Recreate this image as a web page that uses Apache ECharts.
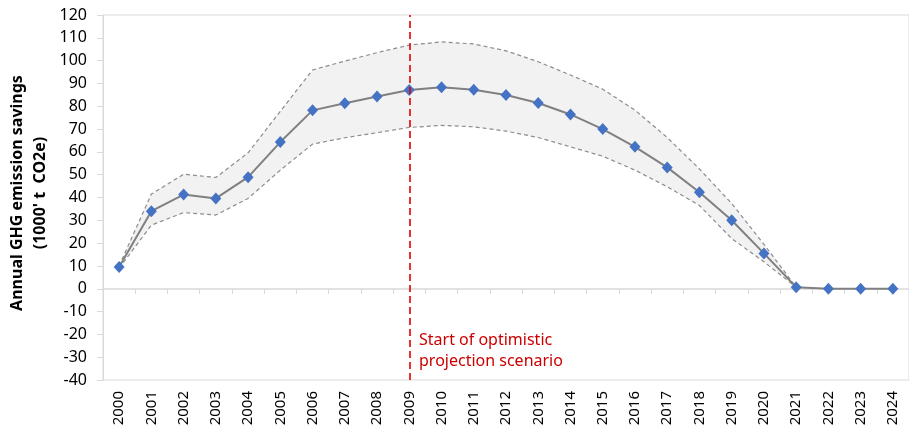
<!DOCTYPE html>
<html>
<head>
<meta charset="utf-8">
<script src="https://cdn.jsdelivr.net/npm/echarts@6/dist/echarts.min.js"></script>
<style>html,body{margin:0;padding:0;background:#fff}#c{width:909px;height:431px}</style>
</head>
<body>
<div id="c"></div>
<script>
var years = ['2000','2001','2002','2003','2004','2005','2006','2007','2008','2009','2010','2011','2012','2013','2014','2015','2016','2017','2018','2019','2020','2021','2022','2023','2024'];
var savings = [9.5, 34.0, 41.3, 39.6, 48.9, 64.3, 78.2, 81.3, 84.3, 87.1, 88.3, 87.2, 84.9, 81.4, 76.4, 70.0, 62.2, 53.2, 42.3, 30.0, 15.5, 0.7, 0, 0, 0];
var upperBound = [10, 41.5, 50.2, 48.8, 59.6, 77.8, 95.9, 99.8, 103.5, 106.8, 108.2, 107.3, 104.3, 99.5, 93.7, 87.5, 78.3, 66.3, 52.5, 37.4, 19.5, 0.7];
var lowerBound = [9, 27.9, 33.4, 32.3, 39.6, 52.0, 63.4, 66.2, 68.4, 70.7, 71.6, 71.0, 69.1, 66.3, 62.2, 58.1, 52.0, 44.7, 36.5, 22.0, 11.8, 0.7];
var yTicks = {min: -40, max: 120, interval: 10};
var scenarioStart = '2009';
var axisTitle = ['Annual GHG emission savings', "(1000' t  CO2e)"];
var note = ['Start of optimistic', 'projection scenario'];

var bandDiff = upperBound.map(function (u, i) { return +(u - lowerBound[i]).toFixed(2); });

var chart = echarts.init(document.getElementById('c'), null, {renderer: 'canvas'});
chart.setOption({
  animation: false,
  backgroundColor: '#fff',
  grid: {left: 103, right: -2.5, top: 15, bottom: 51, show: true, borderColor: '#d9d9d9', borderWidth: 1, backgroundColor: 'transparent'},
  xAxis: [
    {type: 'category', data: years, position: 'bottom', boundaryGap: true,
      axisLine: {show: false, onZero: false}, axisTick: {show: false},
      axisLabel: {rotate: 90, margin: 11, color: '#000', fontFamily: 'Noto Sans', fontSize: 15, interval: 0},
      splitLine: {show: false}},
    {type: 'category', data: years, position: 'bottom', boundaryGap: true,
      axisLine: {show: true, onZero: true, lineStyle: {color: '#d9d9d9', width: 1.5}},
      axisTick: {show: true, length: 5, interval: 0, lineStyle: {color: '#d9d9d9', width: 1}},
      axisLabel: {show: false}, splitLine: {show: false}}
  ],
  yAxis: {type: 'value', min: yTicks.min, max: yTicks.max, interval: yTicks.interval,
    axisLine: {show: true, lineStyle: {color: '#d9d9d9', width: 1}},
    axisTick: {show: true, length: 6, lineStyle: {color: '#d9d9d9'}},
    axisLabel: {color: '#000', fontFamily: 'Noto Sans', fontSize: 16, margin: 16},
    splitLine: {show: false}},
  series: [
    {name: 'base', type: 'line', data: lowerBound, stack: 'band', symbol: 'none', silent: true,
      lineStyle: {opacity: 0}, areaStyle: {opacity: 0}, z: 1},
    {name: 'band', type: 'line', data: bandDiff, stack: 'band', symbol: 'none', silent: true,
      lineStyle: {opacity: 0}, areaStyle: {color: '#f2f2f2', opacity: 1}, z: 1},
    {name: 'upper', type: 'line', data: upperBound, symbol: 'none',
      lineStyle: {color: '#8c8c8c', width: 1.2, type: [4, 3]}, z: 2},
    {name: 'lower', type: 'line', data: lowerBound, symbol: 'none',
      lineStyle: {color: '#8c8c8c', width: 1.2, type: [4, 3]}, z: 2},
    {name: 'savings', type: 'line', data: savings, symbol: 'diamond', symbolSize: [11, 12],
      lineStyle: {color: '#808080', width: 2}, itemStyle: {color: '#4472c4'}, z: 4,
      markLine: {silent: true, symbol: 'none', label: {show: false},
        lineStyle: {color: '#e00000', width: 1.6, type: [7, 4]},
        data: [{xAxis: scenarioStart}]}}
  ],
  graphic: [
    {type: 'text', left: 419, top: 330, z: 10,
      style: {text: note.join('\n'), fill: '#cc0000', font: '16px "Noto Sans"', lineHeight: 21}},
    {type: 'text', x: 28.5, y: 193, rotation: Math.PI / 2, z: 10,
      style: {text: axisTitle.join('\n'), fill: '#000', font: 'bold 16px "Noto Sans"', lineHeight: 23, align: 'center', verticalAlign: 'middle'}}
  ]
});
</script>
</body>
</html>
